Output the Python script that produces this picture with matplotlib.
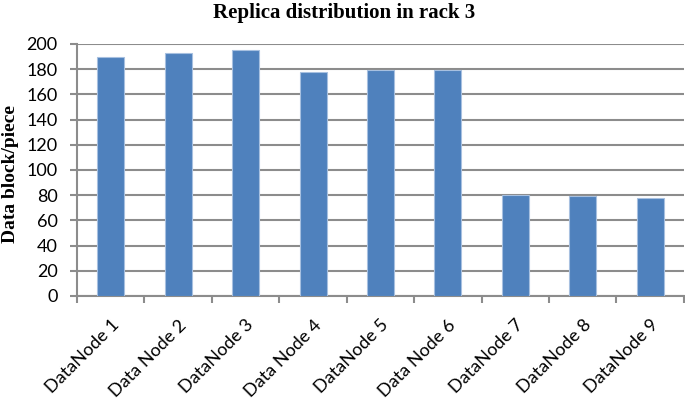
import matplotlib
matplotlib.use("Agg")
import matplotlib.pyplot as plt
import numpy as np

nodes = ["DataNode 1", "Data Node 2", "DataNode 3", "Data Node 4", "DataNode 5",
         "Data Node 6", "DataNode 7", "DataNode 8", "DataNode 9"]
blocks = [190, 193, 195, 178, 179, 179, 80, 79, 78]

fig = plt.figure(figsize=(6.85, 4.0), dpi=100)
ax = fig.add_axes([0.1124, 0.26, 0.886, 0.63])

x = np.arange(len(nodes))
ax.bar(x, blocks, width=0.4, color="#4f81bd", edgecolor="#a7c0e0", linewidth=0.8, zorder=3)

ax.set_xlim(-0.5, len(nodes) - 0.5)
ax.set_ylim(0, 200)
ax.set_yticks(range(0, 201, 20))
ax.yaxis.grid(True, color="#8c8c8c", linewidth=1.5, zorder=0)

# category ticks sit between bars
ax.set_xticks(np.arange(-0.5, len(nodes), 1.0))
ax.set_xticklabels([])
ax.set_xticks(x, minor=True)
ax.set_xticklabels(nodes, minor=True, rotation=45, ha="right", rotation_mode="anchor",
                   fontfamily="Lato", fontsize=13)
ax.tick_params(axis="x", which="minor", length=0, pad=15)
ax.tick_params(axis="x", which="major", length=5, width=1.5, color="#8c8c8c", direction="out")
ax.tick_params(axis="y", length=5, width=1.5, color="#8c8c8c", labelsize=13, pad=9)
for lbl in ax.get_yticklabels():
    lbl.set_fontfamily("Lato")

for side in ["top", "right"]:
    ax.spines[side].set_visible(False)
for side in ["left", "bottom"]:
    ax.spines[side].set_color("#8c8c8c")
    ax.spines[side].set_linewidth(1.5)

fig.text(0.015, 0.565, "Data block/piece", rotation=90, ha="center", va="center",
         fontfamily="Liberation Serif", fontweight="bold", fontsize=14)
fig.text(0.502, 0.967, "Replica distribution in rack 3", ha="center", va="center",
         fontfamily="Liberation Serif", fontweight="bold", fontsize=15)

fig.savefig("out.png", dpi=100)
